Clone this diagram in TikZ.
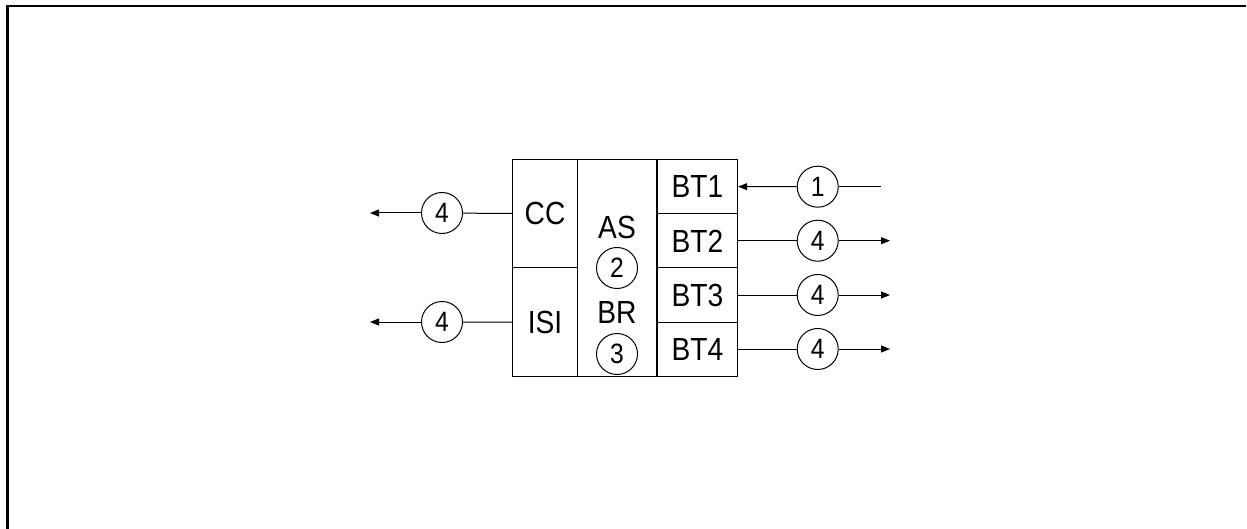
\documentclass[tikz,border=0pt]{standalone}
\usepackage{fontspec}
\setmainfont{Liberation Sans}
\usetikzlibrary{arrows.meta}
\newcommand\narrowtext[1]{\scalebox{0.88}[1]{#1}}
\begin{document}
\begin{tikzpicture}[x=1pt,y=-1pt,
  box/.style={draw,line width=1pt,inner sep=0pt,font=\fontsize{32}{34}\selectfont},
  lbl/.style={inner sep=0pt,font=\fontsize{32}{34}\selectfont},
  num/.style={draw,circle,line width=1pt,minimum size=41pt,inner sep=0pt,font=\fontsize{28}{30}\selectfont},
  conn/.style={line width=1pt},
  arr/.style={conn,-{Triangle[length=9pt,width=7pt]}}]
\useasboundingbox (0,0) rectangle (1247,529);
\draw[line width=2.2pt] (7.5,529) -- (7.5,5.8) -- (1246,5.8);
% boxes
\node[box,minimum width=65.4pt,minimum height=108.4pt] (cc) at (545,213.5) {\narrowtext{CC}};
\node[box,minimum width=65.4pt,minimum height=109pt] (isi) at (545,322.2) {\narrowtext{ISI}};
\node[box,minimum width=79pt,minimum height=217.4pt] (asbr) at (617.2,268) {};
\node[box,minimum width=80.4pt,minimum height=54.7pt] (bt1) at (697.5,186.65) {\narrowtext{BT1}};
\node[box,minimum width=80.4pt,minimum height=53.7pt] (bt2) at (697.5,240.85) {\narrowtext{BT2}};
\node[box,minimum width=80.4pt,minimum height=54.6pt] (bt3) at (697.5,295) {\narrowtext{BT3}};
\node[box,minimum width=80.4pt,minimum height=54.4pt] (bt4) at (697.5,349.5) {\narrowtext{BT4}};
% AS/BR column content
\node[lbl] (as) at (617,227) {\narrowtext{AS}};
\node[num] (n2) at (617,268) {\narrowtext{2}};
\node[lbl] (br) at (617,312) {\narrowtext{BR}};
\node[num] (n3) at (617,354) {\narrowtext{3}};
% left side
\node[num] (lc) at (442,213) {\narrowtext{4}};
\node[num] (li) at (442,322) {\narrowtext{4}};
\coordinate (lcend) at (370,213);
\coordinate (liend) at (370,322);
\draw[conn] (cc.west) -- (lc);
\draw[arr] (lc) -- (lcend);
\draw[conn] (isi.west) -- (li);
\draw[arr] (li) -- (liend);
% right side
\node[num] (r1) at (817.7,186.7) {\narrowtext{1}};
\node[num] (r2) at (817.7,240.7) {\narrowtext{4}};
\node[num] (r3) at (817.7,295) {\narrowtext{4}};
\node[num] (r4) at (817.7,349) {\narrowtext{4}};
\coordinate (r1end) at (881,186.7);
\coordinate (r2end) at (890,240.7);
\coordinate (r3end) at (890,295);
\coordinate (r4end) at (890,349);
\draw[conn] (r1end) -- (r1);
\draw[arr] (r1) -- (bt1.east);
\draw[conn] (bt2.east |- r2) -- (r2);
\draw[arr] (r2) -- (r2end);
\draw[conn] (bt3.east |- r3) -- (r3);
\draw[arr] (r3) -- (r3end);
\draw[conn] (bt4.east |- r4) -- (r4);
\draw[arr] (r4) -- (r4end);
\end{tikzpicture}
\end{document}
